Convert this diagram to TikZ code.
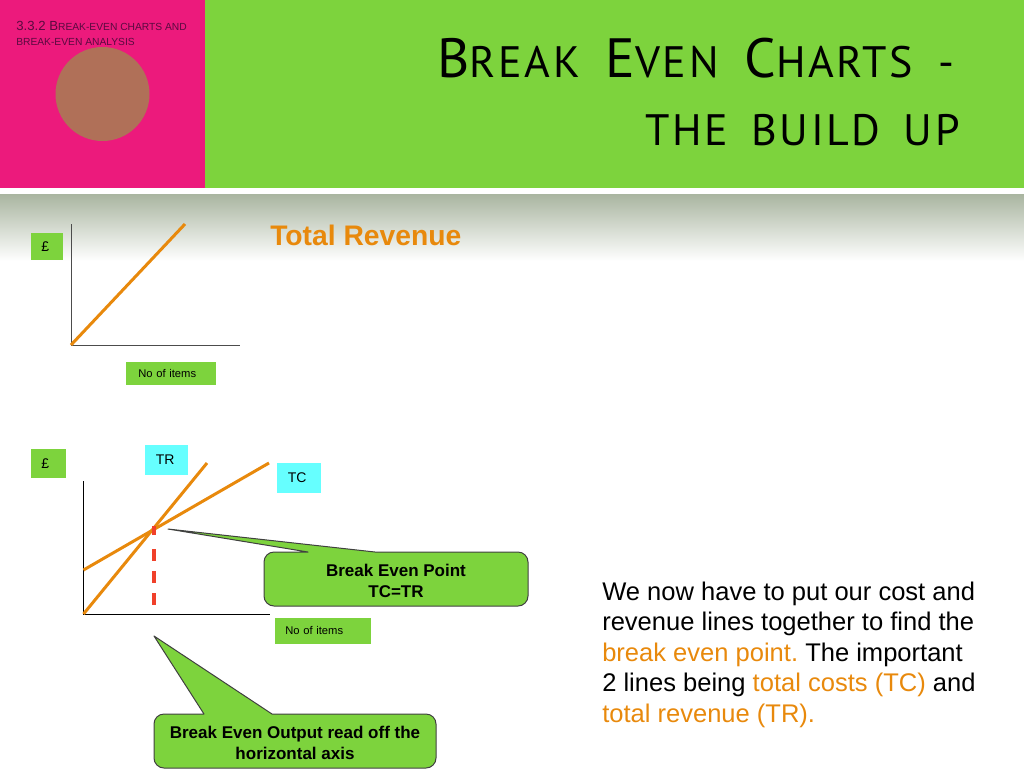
\documentclass[tikz,border=0pt]{standalone}
\usepackage{fontspec}
\setmainfont{Liberation Sans}
\newfontfamily\titlefont[LetterSpace=6]{PT Sans}
\newcommand{\fsz}[1]{\fontsize{#1}{15.4}\selectfont}
\newcommand{\wordgap}{\hspace{6.5pt}}
\newcommand{\bigwordgap}{\hspace{8.5pt}}
\definecolor{slidegreen}{HTML}{7DD33D}
\definecolor{slidepink}{HTML}{EC1A7C}
\definecolor{discbrown}{HTML}{B07058}
\definecolor{lineorange}{HTML}{E8890C}
\definecolor{labelcyan}{HTML}{66FFFF}
\definecolor{headdark}{HTML}{5A0A40}
\definecolor{bandgrey}{HTML}{A9B5A0}
\definecolor{dashred}{HTML}{F0402A}
\tikzset{
  greenbox/.style={fill=slidegreen,anchor=north west,inner ysep=0pt,font=\fsz{8.4},align=left},
  poundbox/.style={greenbox,font=\fsz{10.5},inner xsep=7.5pt},
  cyanbox/.style={fill=labelcyan,anchor=north west,inner ysep=0pt,font=\fsz{10.5},align=left,text depth=1.5pt},
  chartline/.style={lineorange,line width=2.25pt},
  chartaxis/.style={black,line width=.75pt},
  callout/.style={fill=slidegreen,draw=black!75,line width=.75pt,line join=round},
  calloutlbl/.style={font=\bfseries\fsz{12.75},align=center,inner sep=0pt}
}
\begin{document}
\begin{tikzpicture}[x=.75pt,y=-.75pt,line cap=butt]
	\useasboundingbox (0,0) rectangle (1024,768);
	%Header
	\fill[slidegreen] (205,0) rectangle (1024,188);
	\fill[slidepink] (0,0) rectangle (205,188);
	\fill[discbrown] (102.5,94) circle (47);
	\fill[top color=bandgrey,bottom color=white] (0,194) rectangle (1024,261);
	\node[anchor=base west,inner sep=0pt,text=headdark] (sectionone) at (16,30) {\fsz{9.9}3.3.2 B\fsz{7.7}REAK-EVEN CHARTS AND};
	\node[anchor=base west,inner sep=0pt,text=headdark] (sectiontwo) at (16,45) {\fsz{7.7}BREAK-EVEN ANALYSIS};
	\node[anchor=base east,inner sep=0pt] (titleone) at (955,77) {\titlefont\fsz{41.5}B\fsz{33}REAK\bigwordgap{} \fsz{41.5}E\fsz{33}VEN\bigwordgap{} \fsz{41.5}C\fsz{33}HARTS\bigwordgap{} -};
	\node[anchor=base east,inner sep=0pt] (titletwo) at (960,145) {\titlefont\fsz{33}THE\wordgap{} BUILD\wordgap{} UP};
	\node[anchor=base west,inner sep=0pt,text=lineorange,font=\bfseries\fsz{21.2}] (totalrev) at (270,245) {Total Revenue};
	%First chart
	\coordinate (oa) at (71,345);
	\coordinate (ya) at (71,224);
	\coordinate (xa) at (240,345);
	\coordinate (tra) at (185,224);
	\draw[chartaxis,black!70] (ya)--(oa)--(xa);
	\draw[chartline] (oa)--(tra);
	\node[poundbox,text width=9pt,minimum height=20.25pt] (poundone) at (31,233) {£};
	\node[greenbox,inner xsep=9pt,text width=49.5pt,minimum height=17.25pt] (itemsone) at (126,362) {No of items};
	%Second chart
	\coordinate (ob) at (83.5,614);
	\coordinate (yb) at (83.5,481);
	\coordinate (xb) at (270,614);
	\coordinate (trb) at (207,463);
	\coordinate (fc) at (83.5,570);
	\coordinate (tcb) at (269,463);
	\coordinate (bep) at (154,526);
	\coordinate (bepfoot) at (154,605);
	\draw[chartaxis] (yb)--(ob)--(xb);
	\draw[chartline] (ob)--(trb);
	\draw[chartline] (fc)--(tcb);
	\draw[dashred,line width=3pt,dash pattern=on 6.75pt off 10.5pt on 9pt off 7.5pt on 9pt off 7.5pt on 9pt off 7.5pt] (bep)--(bepfoot);
	\node[poundbox,text width=11.25pt,minimum height=21.75pt] (poundtwo) at (31,449) {£};
	\node[cyanbox,inner xsep=8pt,text width=16.25pt,minimum height=22.5pt] (trlbl) at (145,445) {TR};
	\node[cyanbox,inner xsep=8pt,text width=17pt,minimum height=22.5pt] (tclbl) at (277,463) {TC};
	\node[greenbox,inner xsep=7.5pt,text width=57pt,minimum height=19.5pt,text depth=1.5pt] (itemstwo) at (275,618) {No of items};
	%Callouts
	\coordinate (tipone) at (168,529);
	\coordinate (tiptwo) at (154,636);
	\draw[callout] (tipone)--(308,552)[rounded corners=7.5pt]--(264,552)--(264,606)--(528,606)--(528,552)[sharp corners]--(375,552)--cycle;
	\draw[callout] (tiptwo)--(204,714)[rounded corners=7.5pt]--(154,714)--(154,768)--(436,768)--(436,714)[sharp corners]--(272,714)--cycle;
	\node[calloutlbl] (beplbl) at (396,581) {Break Even Point\\TC=TR};
	\node[calloutlbl] (outputlbl) at (295,743) {Break Even Output read off the\\horizontal axis};
	%Body text
	\node[anchor=north west,inner sep=0pt,align=left,font=\fontsize{19.15}{22.9}\selectfont\frenchspacing] (bodytext) at (602,581.5) {We now have to put our cost and\\revenue lines together to find the\\\textcolor{lineorange}{break even point.} The important\\2 lines being \textcolor{lineorange}{total costs (TC)} and\\\textcolor{lineorange}{total revenue (TR).}};
\end{tikzpicture}
\end{document}
